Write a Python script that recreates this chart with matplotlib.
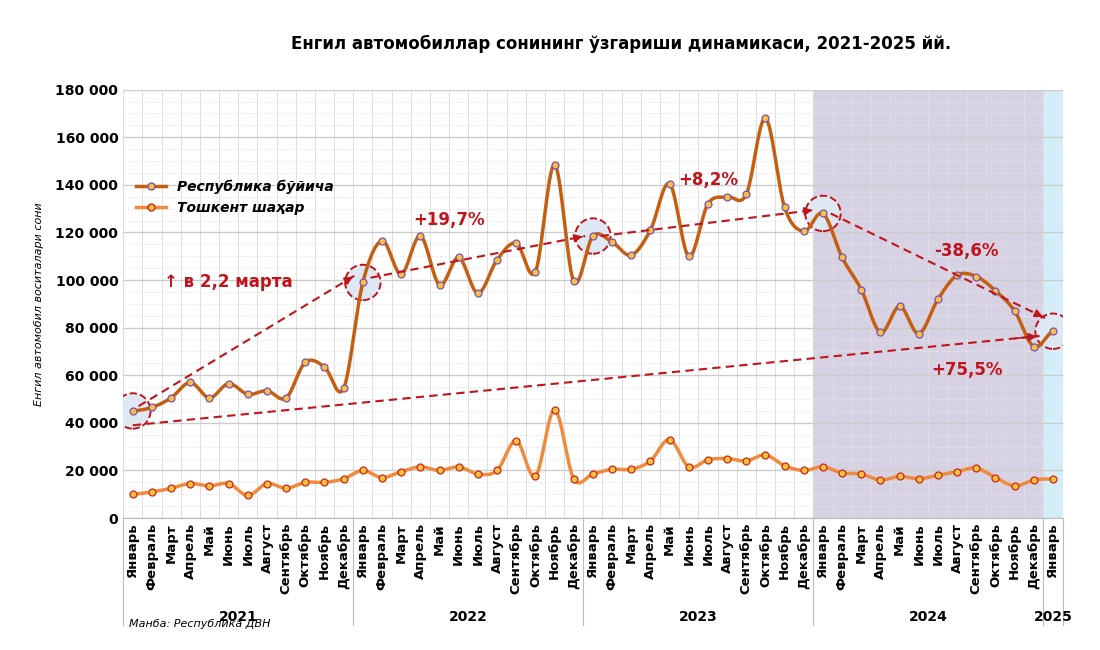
import matplotlib
matplotlib.use("Agg")
import matplotlib.pyplot as plt
import numpy as np
from matplotlib.ticker import FuncFormatter, MultipleLocator

months = ["Январь","Февраль","Март","Апрель","Май","Июнь","Июль","Август","Сентябрь","Октябрь","Ноябрь","Декабрь"]
labels = months * 4 + ["Январь"]
years = ["2021", "2022", "2023", "2024", "2025"]
republic = [45000,46500,50500,57000,50500,56500,52000,53500,50500,65500,63500,54500,
            99000,116500,102500,118500,98000,109500,94500,108500,115500,103500,148500,99500,
            118500,116000,110500,121000,140500,110000,132000,135000,136000,168000,130500,120500,
            128000,109500,96000,78000,89000,77500,92000,102000,101500,95500,87000,72000,
            78500]
tashkent = [10000,11000,12500,14500,13500,14500,9500,14500,12500,15000,15000,16500,
            20000,17000,19500,21500,20000,21500,18500,20000,32500,17500,45500,16500,
            18500,20500,20500,24000,33000,21500,24500,25000,24000,26500,22000,20000,
            21500,19000,18500,16000,17500,16500,18000,19500,21000,17000,13500,16000,
            16500]

def smooth(y, n=20):
    y = np.asarray(y, float)
    p = np.concatenate([[y[0]], y, [y[-1]]])
    xs, ys = [], []
    for i in range(len(y) - 1):
        p0, p1, p2, p3 = p[i], p[i+1], p[i+2], p[i+3]
        t = np.linspace(0, 1, n, endpoint=False)
        v = 0.5*((2*p1) + (-p0+p2)*t + (2*p0-5*p1+4*p2-p3)*t**2 + (-p0+3*p1-3*p2+p3)*t**3)
        xs.append(i + t); ys.append(v)
    xs.append([len(y)-1]); ys.append([y[-1]])
    return np.concatenate(xs), np.concatenate(ys)

fig = plt.figure(figsize=(11, 6.5), dpi=100)
ax = fig.add_axes([0.112, 0.203, 0.854, 0.659])
x = np.arange(len(republic))
ax.set_xlim(-0.5, len(republic) - 0.5)
ax.set_ylim(0, 180000)

ax.axvspan(35.5, 47.5, color="#d6d1e3", zorder=0)
ax.axvspan(47.5, 48.5, color="#d3eef8", zorder=0)

ax.yaxis.set_major_locator(MultipleLocator(20000))
ax.yaxis.set_minor_locator(MultipleLocator(5000))
ax.set_xticks(x)
ax.set_xticks(np.arange(-0.5, 49, 0.5), minor=True)
ax.grid(which="major", axis="y", color="#cccccc", lw=1, zorder=1)
ax.grid(which="minor", axis="y", color="#e6e6e6", lw=0.6, ls=(0, (3, 2)), zorder=1)
ax.grid(which="minor", axis="x", color="#dddddd", lw=0.7, zorder=1)
ax.tick_params(axis="x", which="both", length=0)
ax.tick_params(axis="y", which="both", length=0)
ax.yaxis.set_major_formatter(FuncFormatter(lambda v, p: f"{int(v):,}".replace(",", " ")))
for lab in ax.get_yticklabels():
    lab.set_fontweight("bold"); lab.set_fontsize(10)
ax.set_xticklabels(labels, rotation=90, fontsize=9.5, fontweight="bold")
for s in ["top", "right", "left"]:
    ax.spines[s].set_visible(False)
ax.spines["bottom"].set_color("#bbbbbb")
ax.set_ylabel("Енгил автомобил воситалари сони", fontsize=8, style="italic", labelpad=8)

sx, sy = smooth(republic)
ax.plot(sx, sy, color="#c45f12", lw=2.5, zorder=4)
ax.plot(x, republic, ls="none", marker="o", ms=5, mfc="#f7c23a", mec="#7b4fb8", mew=0.9, zorder=5)
sx2, sy2 = smooth(tashkent)
ax.plot(sx2, sy2, color="#f08a3c", lw=2.5, zorder=4)
ax.plot(x, tashkent, ls="none", marker="o", ms=5, mfc="#f7c23a", mec="#d0241a", mew=0.9, zorder=5)

from matplotlib.lines import Line2D
h1 = Line2D([], [], color="#c45f12", lw=2.5, marker="o", ms=5, mfc="#f7c23a", mec="#7b4fb8")
h2 = Line2D([], [], color="#f08a3c", lw=2.5, marker="o", ms=5, mfc="#f7c23a", mec="#d0241a")
ax.legend([h1, h2], ["Республика бўйича", "Тошкент шаҳар"], loc="upper left",
          bbox_to_anchor=(0.0, 0.82), frameon=False,
          prop={"weight": "bold", "style": "italic", "size": 10}, handlelength=2.2)

red = "#c0141c"
circ = [0, 12, 24, 36, 48]
ax.scatter(x[circ], [republic[i] for i in circ], s=650, facecolor="#dde8f2", edgecolor=red,
           linestyle="--", linewidth=1.4, zorder=3)
def arr(x0, y0, x1, y1):
    ax.plot([x0, x1], [y0, y1], color=red, lw=1.5, ls=(0, (4, 2.5)), zorder=6)
    ax.annotate("", xy=(x1, y1), xytext=(x0 + (x1 - x0) * 0.97, y0 + (y1 - y0) * 0.97),
                arrowprops=dict(arrowstyle="-|>", color=red, lw=1.2, mutation_scale=12), zorder=6)
arr(0.3, 47000, 11.6, 102000)
arr(12.4, 101000, 23.6, 118500)
arr(24.4, 118500, 35.6, 129500)
arr(36.4, 128000, 47.6, 84000)
arr(0, 39000, 47.3, 76500)
ax.text(5, 97000, "↑ в 2,2 марта", color=red, fontsize=12, fontweight="bold", ha="center")
ax.text(16.5, 123000, "+19,7%", color=red, fontsize=12, fontweight="bold", ha="center")
ax.text(30, 140000, "+8,2%", color=red, fontsize=12, fontweight="bold", ha="center")
ax.text(43.5, 110000, "-38,6%", color=red, fontsize=12, fontweight="bold", ha="center")
ax.text(43.5, 60000, "+75,5%", color=red, fontsize=12, fontweight="bold", ha="center")

spans = [(-0.5, 11.5), (11.5, 23.5), (23.5, 35.5), (35.5, 47.5), (47.5, 48.5)]
for (a, b), yr in zip(spans, years):
    ax.text((a + b) / 2, -0.24, yr, transform=ax.get_xaxis_transform(), ha="center",
            fontsize=10, fontweight="bold")
for b in [-0.5, 11.5, 23.5, 35.5, 47.5, 48.5]:
    ax.plot([b, b], [0, -0.25], transform=ax.get_xaxis_transform(), color="#bbbbbb",
            lw=0.8, clip_on=False)

fig.text(0.565, 0.925, "Енгил автомобиллар сонининг ўзгариши динамикаси, 2021-2025 йй.",
         ha="center", fontsize=12, fontweight="bold")
fig.text(0.117, 0.035, "Манба: Республика ДВН", fontsize=8, style="italic")
fig.savefig("out.png", dpi=100)
